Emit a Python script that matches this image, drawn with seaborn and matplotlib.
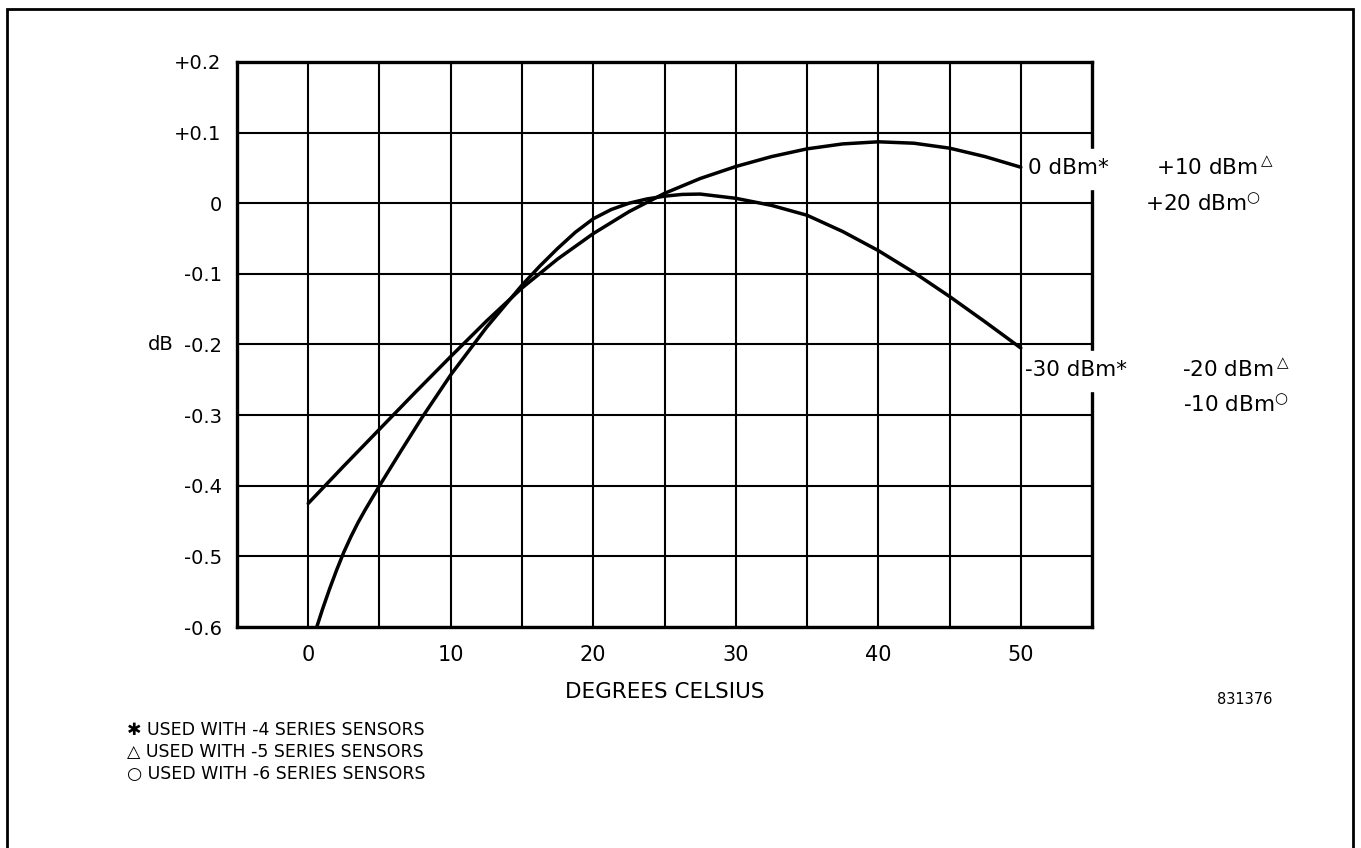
import matplotlib
matplotlib.use("Agg")
import matplotlib.pyplot as plt
import numpy as np
import pandas as pd
import seaborn as sns

# ---- data ----
temp_0dbm = [0, 2.5, 5, 7.5, 10, 12.5, 15, 17.5, 20, 22.5, 25, 27.5, 30,
             32.5, 35, 37.5, 40, 42.5, 45, 47.5, 50]
db_0dbm = [-0.425, -0.372, -0.320, -0.268, -0.217, -0.167, -0.120, -0.079,
           -0.043, -0.012, 0.014, 0.035, 0.052, 0.066, 0.077, 0.084, 0.087,
           0.085, 0.078, 0.066, 0.051]

temp_m30dbm = [0.6, 1.0, 1.5, 2.0, 2.5, 3.0, 3.5, 4.0, 5, 6.5, 8, 10, 12.5,
               15, 16.25, 17.5, 18.75, 20, 21.25, 22.5, 23.75, 25, 26.25,
               27.5, 30, 32.5, 35, 37.5, 40, 42.5, 45, 47.5, 50]
db_m30dbm = [-0.600, -0.575, -0.546, -0.519, -0.494, -0.472, -0.452, -0.434,
             -0.400, -0.351, -0.303, -0.243, -0.176, -0.116, -0.089, -0.064,
             -0.041, -0.022, -0.009, 0.000, 0.006, 0.010, 0.0125, 0.013,
             0.007, -0.003, -0.017, -0.040, -0.067, -0.098, -0.132, -0.168,
             -0.205]

series_names = ["upper", "lower"]
upper_labels = ["0 dBm*", r"+10 dBm$^{\triangle}$", r"+20 dBm$^{\bigcirc}$"]
lower_labels = ["-30 dBm*", r"-20 dBm$^{\triangle}$", r"-10 dBm$^{\bigcirc}$"]

x_ticks = [0, 10, 20, 30, 40, 50]
x_minor = [5, 15, 25, 35, 45]
y_ticks = [0.2, 0.1, 0.0, -0.1, -0.2, -0.3, -0.4, -0.5, -0.6]
y_ticklabels = ["+0.2", "+0.1", "0", "-0.1", "-0.2", "-0.3", "-0.4", "-0.5", "-0.6"]

footnotes = ["\u2731 USED WITH -4 SERIES SENSORS",
             "\u25b3 USED WITH -5 SERIES SENSORS",
             "\u25cb USED WITH -6 SERIES SENSORS"]

df = pd.concat([
    pd.DataFrame({"temp": temp_0dbm, "db": db_0dbm, "series": series_names[0]}),
    pd.DataFrame({"temp": temp_m30dbm, "db": db_m30dbm, "series": series_names[1]}),
])

# ---- style ----
sns.set_theme(style="white")
plt.rcParams["font.family"] = ["DejaVu Sans"]
plt.rcParams["text.color"] = "black"
plt.rcParams["axes.labelcolor"] = "black"
plt.rcParams["xtick.color"] = "black"
plt.rcParams["ytick.color"] = "black"

fig = plt.figure(figsize=(13.61, 8.48), dpi=100)
ax = fig.add_axes([0.1741, 0.2606, 0.6283, 0.6663])

sns.lineplot(data=df, x="temp", y="db", hue="series", units="series",
             estimator=None, sort=False, palette=["black", "black"],
             linewidth=2.5, legend=False, ax=ax, zorder=3)

ax.set_xlim(-5, 55)
ax.set_ylim(-0.6, 0.2)
ax.set_xticks(x_ticks)
ax.set_xticks(x_minor, minor=True)
ax.set_xticklabels([str(v) for v in x_ticks], fontsize=15)
ax.set_yticks(y_ticks)
ax.set_yticklabels(y_ticklabels, fontsize=14)
ax.tick_params(axis="both", which="both", length=0)
ax.tick_params(axis="x", pad=13)
ax.tick_params(axis="y", pad=11)
ax.grid(True, which="both", color="black", linewidth=1.5)
ax.set_axisbelow(True)
for s in ax.spines.values():
    s.set_visible(True)
    s.set_color("black")
    s.set_linewidth(2.4)

ax.set_xlabel("DEGREES CELSIUS", fontsize=15.5, labelpad=12)
ax.set_ylabel("dB", fontsize=14, rotation=0, labelpad=10, va="center")

# breaks in the right frame behind the curve labels
ax.axhspan(0.0198, 0.0765, xmin=0.985, xmax=1.02, color="white", zorder=4, clip_on=False)
ax.axhspan(-0.266, -0.2096, xmin=0.985, xmax=1.02, color="white", zorder=4, clip_on=False)

lab_kw = dict(fontsize=15.5, ha="left", va="center", zorder=6, clip_on=False)
ax.text(50.5, 0.050, upper_labels[0], **lab_kw)
ax.text(59.5, 0.050, upper_labels[1], **lab_kw)
ax.text(58.7, 0.0, upper_labels[2], **lab_kw)
ax.text(50.3, -0.236, lower_labels[0], **lab_kw)
ax.text(61.3, -0.236, lower_labels[1], **lab_kw)
ax.text(61.4, -0.285, lower_labels[2], **lab_kw)

# footnotes and figure number
for i, t in enumerate(footnotes):
    fig.text(127 / 1361, 1 - (730 + 22 * i) / 848, t, fontsize=12.5,
             ha="left", va="center")
fig.text(1245 / 1361, 1 - 699 / 848, "831376", fontsize=10.5,
         ha="center", va="center")

# outer frame
frame = plt.Rectangle((7 / 1361, -0.01), (1353 - 7) / 1361, 1 - 9 / 848 + 0.01,
                      transform=fig.transFigure, fill=False, edgecolor="black",
                      linewidth=2.0)
fig.patches.append(frame)

fig.savefig("out.png", dpi=100, facecolor="white")
